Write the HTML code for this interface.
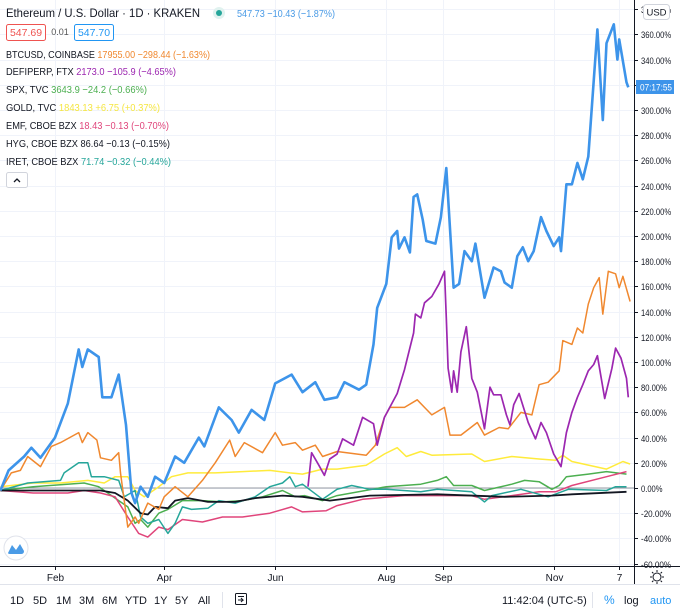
<!DOCTYPE html>
<html><head><meta charset="utf-8"><style>
body{margin:0;background:#fff;font-family:"Liberation Sans",sans-serif;}
svg{display:block}
text{font-family:"Liberation Sans",sans-serif;}
</style></head><body>
<svg id="chart" width="680" height="612" viewBox="0 0 680 612">
<g id="grid"></g>
<g id="series"></g>
<g id="axes"></g>
<g font-size="10.5">
 <text x="6" y="17" font-size="12" fill="#131722" textLength="194" lengthAdjust="spacingAndGlyphs">Ethereum / U.S. Dollar · 1D · KRAKEN</text>
 <circle cx="219" cy="13" r="6" fill="#e0f2ef"/>
 <circle cx="219" cy="13" r="3" fill="#26a69a"/>
 <text x="237" y="17" fill="#4a9be6" textLength="98" lengthAdjust="spacingAndGlyphs">547.73 −10.43 (−1.87%)</text>
 <rect x="6.5" y="24.5" width="39" height="16" rx="2" fill="#fff" stroke="#ef5350"/>
 <text x="26" y="36" fill="#ef5350" text-anchor="middle">547.69</text>
 <text x="60" y="35" fill="#555" font-size="9" text-anchor="middle">0.01</text>
 <rect x="74.5" y="24.5" width="39" height="16" rx="2" fill="#fff" stroke="#2196f3"/>
 <text x="94" y="36" fill="#2196f3" text-anchor="middle">547.70</text>
 <text x="6" y="58" textLength="204" lengthAdjust="spacingAndGlyphs"><tspan fill="#131722">BTCUSD, COINBASE </tspan><tspan fill="#f0882f">17955.00 −298.44 (−1.63%)</tspan></text>
 <text x="6" y="75" textLength="170" lengthAdjust="spacingAndGlyphs"><tspan fill="#131722">DEFIPERP, FTX </tspan><tspan fill="#9c27b0">2173.0 −105.9 (−4.65%)</tspan></text>
 <text x="6" y="93" textLength="141" lengthAdjust="spacingAndGlyphs"><tspan fill="#131722">SPX, TVC </tspan><tspan fill="#4caf50">3643.9 −24.2 (−0.66%)</tspan></text>
 <text x="6" y="111" textLength="154" lengthAdjust="spacingAndGlyphs"><tspan fill="#131722">GOLD, TVC </tspan><tspan fill="#f5e642">1843.13 +6.75 (+0.37%)</tspan></text>
 <text x="6" y="129" textLength="163" lengthAdjust="spacingAndGlyphs"><tspan fill="#131722">EMF, CBOE BZX </tspan><tspan fill="#e0457b">18.43 −0.13 (−0.70%)</tspan></text>
 <text x="6" y="147" textLength="164" lengthAdjust="spacingAndGlyphs"><tspan fill="#131722">HYG, CBOE BZX </tspan><tspan fill="#131722">86.64 −0.13 (−0.15%)</tspan></text>
 <text x="6" y="165" textLength="165" lengthAdjust="spacingAndGlyphs"><tspan fill="#131722">IRET, CBOE BZX </tspan><tspan fill="#26a69a">71.74 −0.32 (−0.44%)</tspan></text>
 <rect x="6.5" y="172.5" width="21" height="15" rx="2" fill="#fff" stroke="#d1d4dc"/>
 <path d="M14 182 L17 179 L20 182" fill="none" stroke="#131722" stroke-width="1.3"/>
</g>
<g>
 <circle cx="16" cy="548" r="12" fill="#fff" stroke="#e0e3eb"/>
 <path d="M8 553 L12 545 L16 550 L20 544 L24 551 Q24 554 21 554 L11 554 Q8 554 8 553Z" fill="#4a9be6"/>
</g>
<g font-size="11" fill="#131722">
 <line x1="0" y1="584.5" x2="680" y2="584.5" stroke="#e0e3eb"/>
 <text x="10" y="604">1D</text>
 <text x="33" y="604">5D</text>
 <text x="56" y="604">1M</text>
 <text x="79" y="604">3M</text>
 <text x="102" y="604">6M</text>
 <text x="125" y="604">YTD</text>
 <text x="154" y="604">1Y</text>
 <text x="175" y="604">5Y</text>
 <text x="198" y="604">All</text>
 <line x1="222.5" y1="592" x2="222.5" y2="608" stroke="#e0e3eb"/>
 <g fill="none" stroke="#131722" stroke-width="1">
  <rect x="235.5" y="593.5" width="11" height="11" rx="1"/><path d="M238 596.5h6M238 600h5l-2-2M243 600l-2 2"/>
 </g>
 <text x="502" y="604">11:42:04 (UTC-5)</text>
 <line x1="592.5" y1="592" x2="592.5" y2="608" stroke="#e0e3eb"/>
 <text x="604" y="604" fill="#2196f3" font-size="12">%</text>
 <text x="624" y="604">log</text>
 <text x="650" y="604" fill="#2196f3">auto</text>
</g>
<g fill="none" stroke="#131722" stroke-width="1">
 <circle cx="657" cy="577" r="4"/>
 <path d="M657 570v2M657 582v2M650 577h2M662 577h2M652 572l1.4 1.4M660.6 580.6l1.4 1.4M652 582l1.4-1.4M660.6 573.4l1.4-1.4"/>
</g>
</svg>
<script>
const NS="http://www.w3.org/2000/svg";
const yTicks=[380,360,340,320,300,280,260,240,220,200,180,160,140,120,100,80,60,40,20,0,-20,-40,-60];
const monthLabels=["Feb","Apr","Jun","Aug","Sep","Nov","7"];
const monthDays=[31,91,152,213,244,305,341];
const ethDays=[1,5.5,14,18,23,31,38,44,46,49,55,57,62,66,70,73,75,78,82,86,91,97,102,110,113,121,128,132,139,146,152,161,167,174,179,186,190,198,202,206,208,213,216,219,220,223,226,228,230,233,235,240,243,246,250,253,256,260,262,267,272,276,278,282,285,288,291,294,298,301,305,308,309,312,315,318,321,324,329,332,334,338,340,341,345,346];
const ethVals=[-2,14,25,32,24,40,67,110,96,110,104,72,72,90,50,-4,-12,1,-7,9,4,25,20,40,33,64,54,44,62,54,83,90,76,84,70,72,84,78,82,114,143,162,199,204,190,199,187,231,233,213,196,194,215,254,159,162,188,180,194,151,175,172,163,159,184,191,180,188,215,204,192,199,188,241,241,258,245,263,364,292,353,368,340,356,322,318];
const btcDays=[1,7,12,16,23,29,34,44,46,49,54,56,62,66,67,71,75,77,82,88,91,97,104,112,119,127,130,135,145,152,156,163,167,174,178,186,202,207,212,215,223,230,234,238,245,248,254,263,267,275,280,287,293,297,302,308,310,315,318,321,324,327,330,332,335,339,341,343,347];
const btcVals=[-2,12,14,25,17,33,36,44,36,44,38,24,22,28,12,-31,-23,-28,-12,-17,-7,1,-7,6,20,38,25,36,28,44,34,36,30,34,25,29,26,34,56,64,64,70,64,58,64,42,42,52,42,48,47,60,58,82,84,93,117,114,127,123,146,159,167,138,172,170,159,168,148];
const defiDays=[170,172,176,179,182,186,189,195,200,206,208,212,219,223,228,229,232,234,238,242,245,246,247,249,250,252,254,257,260,263,267,270,272,276,279,281,283,286,291,295,298,301,305,309,312,315,318,321,324,327,329,333,337,339,342,345,346];
const defiVals=[1,28,18,10,23,27,39,34,56,51,34,56,75,94,123,138,135,147,152,162,172,135,95,76,93,76,108,128,87,76,47,80,74,74,58,50,66,75,52,39,52,44,27,17,44,60,72,82,93,98,105,71,95,111,103,87,72];
const goldDays=[1,19,34,49,58,64,71,75,80,88,95,104,119,134,149,160,167,178,186,202,212,219,224,232,238,260,267,282,297,306,310,315,334,343,347];
const goldVals=[1,4,4,6,4,9,9,-2,-7,1,9,12,12,13,14,12,11,15,15,18,27,32,25,29,26,27,21,25,23,22,26,21,15,21,19];
const spxDays=[1,19,47,55,60,66,71,75,78,82,88,93,101,112,123,134,145,156,163,168,178,186,213,232,241,246,250,260,267,282,289,297,304,308,312,324,334,345];
const spxVals=[-2,1,4,1,-4,-10,-15,-28,-25,-31,-20,-17,-10,-10,-11,-10,-7,-2,-7,-6,-10,-6,1,3,6,9,2,2,-2,3,6,5,-1,2,9,11,13,11];
const emfDays=[1,19,38,47,56,64,71,77,82,88,93,101,112,123,134,149,161,167,180,186,200,223,245,260,267,282,297,306,315,334,345];
const emfVals=[-2,-4,-4,-2,-4,-7,-23,-36,-39,-31,-33,-25,-27,-23,-23,-20,-15,-19,-18,-14,-9,-6,-6,-6,-9,-6,-3,-3,2,9,13];
const hygDays=[1,29,51,56,64,71,78,82,86,93,97,104,115,130,141,156,167,182,204,241,278,304,315,345];
const hygVals=[-2,-2,-2,-2,-4,-10,-20,-21,-15,-16,-10,-8,-11,-11,-8,-6,-7,-10,-6,-5,-7,-6,-5,-3];
const iretDays=[1,16,34,36,44,49,51,58,66,69,75,78,82,88,93,97,101,106,115,121,130,141,149,156,160,163,167,178,186,194,204,213,232,241,260,267,271,287,302,313,334,339,345];
const iretVals=[-2,4,6,12,20,20,9,9,6,-7,-2,-23,-28,-25,-36,-28,-15,-17,-16,-10,-12,-7,1,4,9,1,3,-9,-1,2,-1,-1,-3,-1,-3,-11,-6,-1,-7,-1,-2,1,1];

const xOf=d=>d*1.82-1.4;
const yOf=p=>488-p*1.26;
const grid=document.getElementById('grid');
const axes=document.getElementById('axes');
const ser=document.getElementById('series');
function mk(tag,attrs,parent){const e=document.createElementNS(NS,tag);for(const k in attrs)e.setAttribute(k,attrs[k]);parent.appendChild(e);return e;}

yTicks.forEach(v=>{
  const y=Math.round(yOf(v))+0.5;
  const l=mk('line',{x1:0,x2:634,y1:y,y2:y,stroke:'#f0f3fa'},grid);
  
  
  const t=mk('line',{x1:634,x2:638,y1:y,y2:y,stroke:'#131722'},axes);
  
  
  const s=v.toFixed(2)+'%';
  const tx=mk('text',{x:641,y:y+3.5,'font-size':9.5,fill:'#131722',textLength:s.length*4.3,lengthAdjust:'spacingAndGlyphs'},axes);
  tx.textContent=s;
  
  
});
monthDays.forEach((d,i)=>{
  const x=Math.round(xOf(d))+0.5;
  const l=mk('line',{x1:x,x2:x,y1:0,y2:566,stroke:'#f0f3fa'},grid);
  
  
  const tk=mk('line',{x1:x,x2:x,y1:566,y2:570,stroke:'#131722'},axes);
  
  
  const tx=mk('text',{x:x,y:581,'font-size':10,fill:'#131722','text-anchor':'middle'},axes);
  tx.textContent=monthLabels[i];
  
  
});
const zl=mk('line',{x1:0,x2:634,y1:yOf(0),y2:yOf(0),stroke:'#9598a1','stroke-width':1},grid);



function series(days,vals,color,w,name){
  const pts=days.map((d,i)=>xOf(d).toFixed(1)+','+yOf(vals[i]).toFixed(1)).join(' ');
  const p=mk('polyline',{points:pts,fill:'none',stroke:color,'stroke-width':w,'stroke-linejoin':'round'},ser);
  
  
}
series(goldDays,goldVals,'#ffeb3b',1.5,'gold-line');
series(spxDays,spxVals,'#4caf50',1.5,'spx-line');
series(emfDays,emfVals,'#e0457b',1.5,'emf-line');
series(iretDays,iretVals,'#26a69a',1.5,'iret-line');
series(hygDays,hygVals,'#131722',1.8,'hyg-line');
series(btcDays,btcVals,'#f0882f',1.5,'btcusd-line');
series(defiDays,defiVals,'#9c27b0',1.7,'defiperp-line');
series(ethDays,ethVals,'#3d94ea',2.6,'eth-line');

const ax=mk('line',{x1:634.5,x2:634.5,y1:0,y2:584,stroke:'#131722'},axes);


const bx=mk('line',{x1:0,x2:680,y1:566.5,y2:566.5,stroke:'#131722'},axes);


const tag=mk('rect',{x:636,y:80,width:38,height:14,fill:'#3d94ea'},axes);


const tagt=mk('text',{x:640,y:90.5,'font-size':9.5,fill:'#fff',textLength:32,lengthAdjust:'spacingAndGlyphs'},axes);
tagt.textContent='07:17:55';


const ub=mk('rect',{x:643.5,y:4.5,width:26,height:15,rx:3,fill:'#fff',stroke:'#d1d4dc'},axes);


const ut=mk('text',{x:656.5,y:15.5,'font-size':9.5,fill:'#131722','text-anchor':'middle'},axes);
ut.textContent='USD';


</script>
</body></html>
